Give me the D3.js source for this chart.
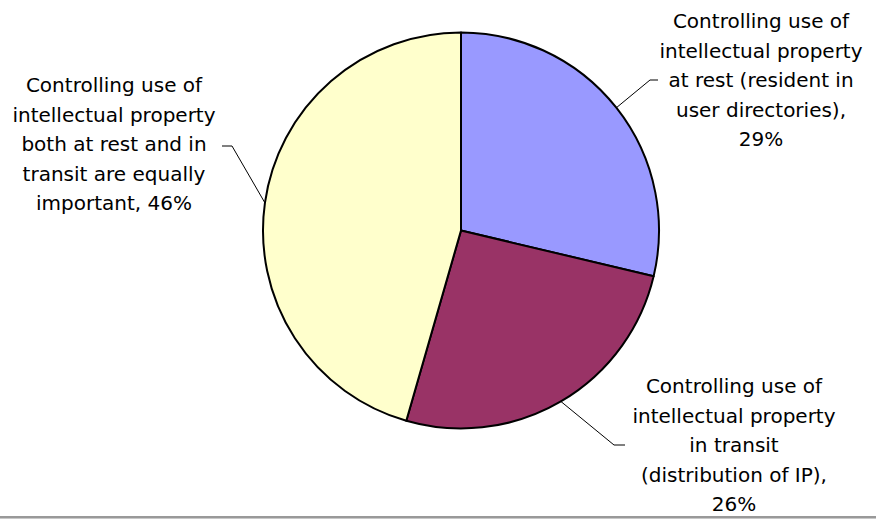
<!DOCTYPE html>
<html>
<head>
<meta charset="utf-8">
<script src="https://cdn.jsdelivr.net/npm/d3@7"></script>
<style>
  html, body { margin: 0; padding: 0; background: #fff; }
  svg { display: block; }
  text { font-family: "DejaVu Sans", Verdana, sans-serif; font-size: 20px; fill: #000; }
</style>
</head>
<body>
<svg id="chart" width="876" height="519"></svg>
<script>
// Category names (line breaks mark where each label wraps)
const categories = [
  "Controlling use of\nintellectual property\nat rest (resident in\nuser directories)",
  "Controlling use of\nintellectual property\nin transit\n(distribution of IP)",
  "Controlling use of\nintellectual property\nboth at rest and in\ntransit are equally\nimportant"
];
// Share of respondents, percent
const values = [29, 26, 46];
const colors = ["#9999FF", "#993366", "#FFFFCC"];
// Whether the percentage sits on its own line under the name
const valueOnNewLine = [true, true, false];

// Layout
const W = 876, H = 519;
const cx = 461, cy = 230.5, radius = 198;
const lineStep = 29.5;
// label anchor: centre x, baseline of first line; leader: elbow and end points
const labelLayout = [
  { x: 761, y: 28.3, elbow: [650, 80], end: [658, 80] },
  { x: 734, y: 393.3, elbow: [614, 445], end: [625, 445] },
  { x: 114, y: 92.3, elbow: [232, 146], end: [222, 146] }
];

const svg = d3.select("#chart");

const pie = d3.pie().sort(null).value(d => d).startAngle(0).endAngle(2 * Math.PI);
const arcs = pie(values);
const arc = d3.arc().innerRadius(0).outerRadius(radius);
const edge = d3.arc().innerRadius(radius).outerRadius(radius);

const g = svg.append("g").attr("transform", `translate(${cx},${cy})`);

g.selectAll("path.slice")
  .data(arcs)
  .join("path")
  .attr("class", "slice")
  .attr("d", arc)
  .attr("fill", (d, i) => colors[i])
  .attr("stroke", "#000")
  .attr("stroke-width", 2)
  .attr("stroke-linejoin", "round");

// leader lines from the middle of each slice edge to its label
svg.selectAll("polyline.leader")
  .data(arcs)
  .join("polyline")
  .attr("class", "leader")
  .attr("fill", "none")
  .attr("stroke", "#000")
  .attr("stroke-width", 1)
  .attr("points", (d, i) => {
    const [ex, ey] = edge.centroid(d);
    const L = labelLayout[i];
    return [[cx + ex, cy + ey], L.elbow, L.end].map(p => p.join(",")).join(" ");
  });

// labels
arcs.forEach((d, i) => {
  const L = labelLayout[i];
  const pct = values[i] + "%";
  const lines = categories[i].split("\n");
  if (valueOnNewLine[i]) {
    lines[lines.length - 1] += ",";
    lines.push(pct);
  } else {
    lines[lines.length - 1] += ", " + pct;
  }
  const t = svg.append("text")
    .attr("text-anchor", "middle")
    .attr("x", L.x)
    .attr("y", L.y);
  t.selectAll("tspan")
    .data(lines)
    .join("tspan")
    .attr("x", L.x)
    .attr("y", (s, k) => L.y + k * lineStep)
    .text(s => s);
});

// frame edge along the bottom
svg.append("rect").attr("x", 0).attr("y", 516).attr("width", W).attr("height", 2).attr("fill", "#999999");
svg.append("rect").attr("x", 0).attr("y", 518).attr("width", W).attr("height", 1).attr("fill", "#c8c8c8");
</script>
</body>
</html>
